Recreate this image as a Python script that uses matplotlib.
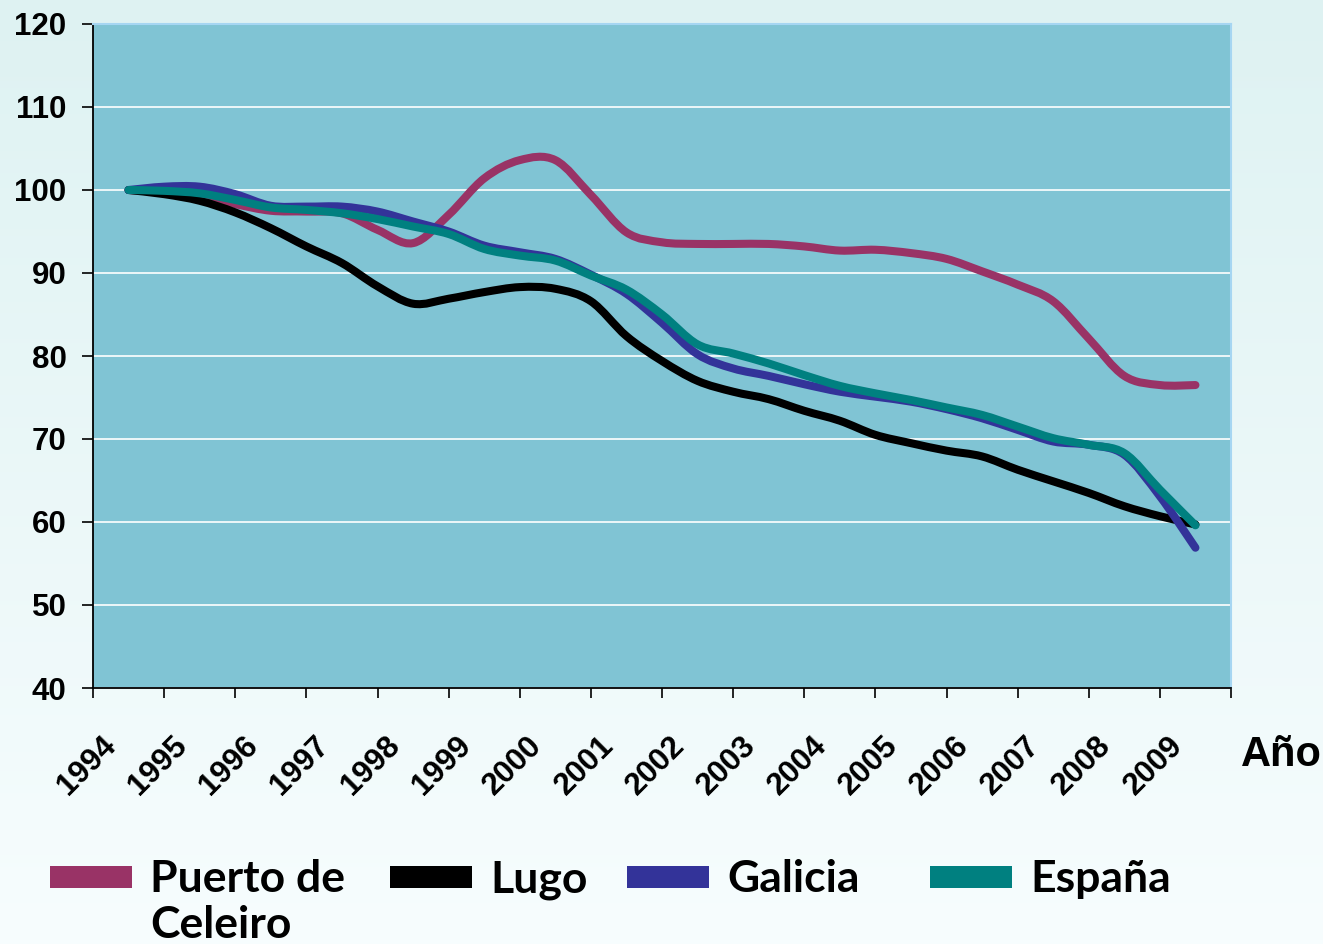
import numpy as np
import matplotlib
matplotlib.use("Agg")
import matplotlib.pyplot as plt
from matplotlib.path import Path
from matplotlib.patches import PathPatch, Rectangle
from matplotlib.transforms import ScaledTranslation
from matplotlib.font_manager import FontProperties

# Year labels on the category axis
years = list(range(1994, 2010))

# Index values (1994 = 100), one value every half year
puerto = [100.0, 99.7, 99.3, 98.3, 97.5, 97.4, 97.2, 95.2, 93.6, 97.0,
          101.4, 103.6, 103.6, 99.4, 94.9, 93.7, 93.5, 93.5, 93.5, 93.2,
          92.7, 92.8, 92.4, 91.7, 90.2, 88.6, 86.6, 82.1, 77.6, 76.5, 76.5]
lugo = [100.0, 99.5, 98.7, 97.3, 95.4, 93.2, 91.2, 88.4, 86.3, 86.9,
        87.7, 88.3, 88.1, 86.6, 82.4, 79.4, 77.0, 75.7, 74.8, 73.4,
        72.2, 70.5, 69.5, 68.6, 67.9, 66.3, 64.9, 63.5, 61.9, 60.7, 59.7]
galicia = [100.0, 100.4, 100.4, 99.5, 98.1, 98.0, 98.0, 97.4, 96.2, 95.0,
           93.3, 92.5, 91.7, 89.8, 87.5, 84.0, 80.2, 78.5, 77.6, 76.6,
           75.7, 75.1, 74.5, 73.6, 72.5, 71.1, 69.7, 69.3, 68.1, 63.1, 56.9]
espana = [100.0, 99.9, 99.6, 98.8, 97.9, 97.6, 97.2, 96.5, 95.6, 94.7,
          92.9, 92.1, 91.5, 89.7, 88.0, 85.0, 81.4, 80.3, 79.1, 77.7,
          76.4, 75.5, 74.7, 73.8, 72.9, 71.5, 70.1, 69.3, 68.3, 63.9, 59.6]

series_names = ["Puerto de\nCeleiro", "Lugo", "Galicia", "España"]
series_values = [puerto, lugo, galicia, espana]
series_colors = ["#993366", "#000000", "#333399", "#008080"]

W, H = 1323, 944


def smooth_path(x, y):
    """Cubic Bezier path through the points (Catmull-Rom tangents)."""
    pts = np.column_stack([x, y]).astype(float)
    n = len(pts)
    verts = [pts[0]]
    codes = [Path.MOVETO]
    for i in range(n - 1):
        p0 = pts[i - 1] if i > 0 else pts[i]
        p1 = pts[i]
        p2 = pts[i + 1]
        p3 = pts[i + 2] if i + 2 < n else pts[i + 1]
        verts += [p1 + (p2 - p0) / 6.0, p2 - (p3 - p1) / 6.0, p2]
        codes += [Path.CURVE4] * 3
    return Path(verts, codes)


def fx(px):
    return px / W


def fy(py):
    return 1 - py / H


fig = plt.figure(figsize=(W / 100, H / 100), dpi=100)

# soft vertical background gradient
bg = fig.add_axes([0, 0, 1, 1], zorder=-10)
grad = np.linspace(0, 1, 256).reshape(-1, 1)
top = np.array([222, 242, 242]) / 255
bot = np.array([247, 253, 254]) / 255
img = top[None, None, :] * (1 - grad[:, :, None]) + bot[None, None, :] * grad[:, :, None]
bg.imshow(img, aspect="auto", extent=[0, 1, 0, 1])
bg.axis("off")

ax = fig.add_axes([fx(93), fy(688), fx(1231) - fx(93), fy(24) - fy(688)])
ax.set_facecolor("#80C4D4")

n_points = len(puerto)
xpos = 0.5 + 0.5 * np.arange(n_points)

for vals, color in zip(series_values, series_colors):
    patch = PathPatch(smooth_path(xpos, vals), facecolor="none",
                      edgecolor=color, lw=5.8, zorder=3)
    patch.set_capstyle("round")
    patch.set_joinstyle("round")
    ax.add_patch(patch)

ax.set_xlim(0, len(years))
ax.set_ylim(40, 120)
ax.set_yticks(np.arange(40, 121, 10))
ax.yaxis.grid(True, color="white", lw=1.2)
ax.set_axisbelow(True)

ax.spines["left"].set_color("black")
ax.spines["left"].set_linewidth(1.3)
ax.spines["bottom"].set_color("black")
ax.spines["bottom"].set_linewidth(1.3)
for s in ("top", "right"):
    ax.spines[s].set_color("#A6D6F2")
    ax.spines[s].set_linewidth(1.5)

tick_font = dict(family=["Liberation Sans", "DejaVu Sans"], weight="bold", size=22.5)

ax.tick_params(axis="y", direction="out", length=8, width=1.2, pad=11)
for lbl in ax.get_yticklabels():
    lbl.set_fontproperties(FontProperties(**tick_font))

ax.set_xticks(np.arange(len(years) + 1))
ax.set_xticklabels([str(y) for y in years] + [""], rotation=45,
                   ha="right", va="center", rotation_mode="anchor", **tick_font)
ax.tick_params(axis="x", direction="out", length=7, width=1.2, pad=31)
shift = ScaledTranslation(18 / 100, 0, fig.dpi_scale_trans)
for lbl in ax.get_xticklabels():
    lbl.set_transform(lbl.get_transform() + shift)

fig.text(fx(1241), fy(766), "Año", ha="left", va="baseline",
         family=["Liberation Sans", "DejaVu Sans"], weight="bold", size=30)

# legend row below the chart; multi-line names hang below the first line
swatch_x = [50, 390, 627, 930]
text_x = [150, 490, 727, 1030]
line_step = 46
for name, color, sx, tx in zip(series_names, series_colors, swatch_x, text_x):
    fig.add_artist(Rectangle((fx(sx), fy(888)), fx(82), 22 / H,
                             transform=fig.transFigure, facecolor=color,
                             edgecolor="none"))
    for j, part in enumerate(name.split("\n")):
        fig.text(fx(tx), fy(892 + j * line_step), part, ha="left",
                 va="baseline", family=["Lato", "DejaVu Sans"],
                 weight="bold", size=32)

fig.savefig("out.png", dpi=100)
